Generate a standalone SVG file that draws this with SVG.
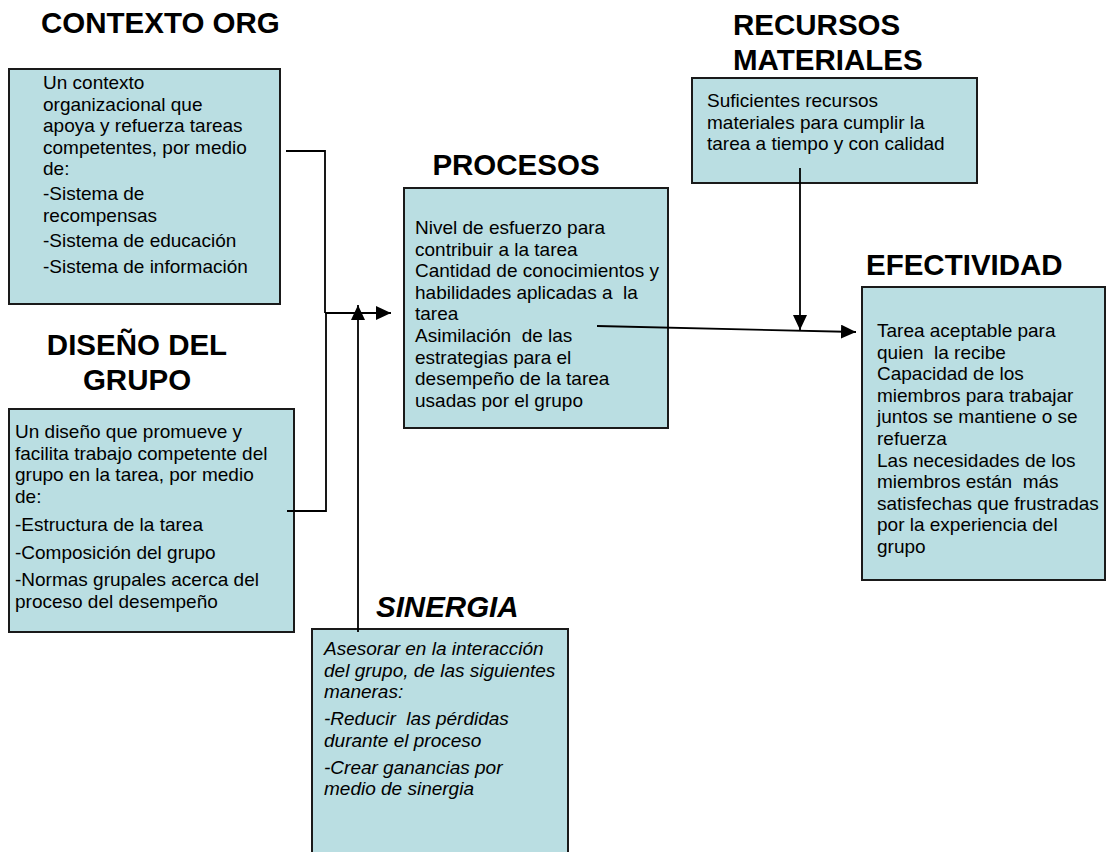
<svg xmlns="http://www.w3.org/2000/svg" width="1109" height="852" viewBox="0 0 1109 852">
<style>
.box{fill:#BADEE2;stroke:#1a1a1a;stroke-width:2}
.title{font-family:"Liberation Sans",Arial,sans-serif;font-weight:bold;font-size:29.5px;fill:#000}
.ti{font-style:italic}
.body{font-family:"Liberation Sans",Arial,sans-serif;font-size:19px;fill:#000;white-space:pre}
.it{font-style:italic}
.conn{fill:none;stroke:#000;stroke-width:1.8}
</style>
<defs>
<marker id="arr" markerUnits="userSpaceOnUse" markerWidth="16" markerHeight="14" refX="15" refY="7" orient="auto">
<path d="M0,0 L15,7 L0,14 Z" fill="#000"/>
</marker>
</defs>
<rect width="1109" height="852" fill="#fff"/>

<g id="contexto">
<text class="title" x="41" y="33">CONTEXTO ORG</text>
<rect class="box" x="9" y="69" width="271" height="235"/>
<text class="body" xml:space="preserve">
<tspan x="43" y="89">Un contexto</tspan>
<tspan x="43" y="110.6">organizacional que</tspan>
<tspan x="43" y="132.2">apoya y refuerza tareas</tspan>
<tspan x="43" y="153.8">competentes, por medio</tspan>
<tspan x="43" y="175.4">de:</tspan>
<tspan x="43" y="200">-Sistema de</tspan>
<tspan x="43" y="221.6">recompensas</tspan>
<tspan x="43" y="247">-Sistema de educación</tspan>
<tspan x="43" y="272.5">-Sistema de información</tspan>
</text>
</g>

<g id="diseno">
<text class="title" x="137" y="355" text-anchor="middle">DISEÑO DEL</text>
<text class="title" x="137" y="390" text-anchor="middle">GRUPO</text>
<rect class="box" x="9" y="409" width="285" height="223"/>
<text class="body" xml:space="preserve">
<tspan x="15" y="438">Un diseño que promueve y</tspan>
<tspan x="15" y="459.6">facilita trabajo competente del</tspan>
<tspan x="15" y="481.2">grupo en la tarea, por medio</tspan>
<tspan x="15" y="502.8">de:</tspan>
<tspan x="15" y="530.5">-Estructura de la tarea</tspan>
<tspan x="15" y="558.5">-Composición del grupo</tspan>
<tspan x="15" y="586">-Normas grupales acerca del</tspan>
<tspan x="15" y="607.6">proceso del desempeño</tspan>
</text>
</g>

<g id="procesos">
<text class="title" x="516" y="175" text-anchor="middle">PROCESOS</text>
<rect class="box" x="404" y="188" width="264" height="240"/>
<text class="body" xml:space="preserve">
<tspan x="415" y="234">Nivel de esfuerzo para</tspan>
<tspan x="415" y="255.6">contribuir a la tarea</tspan>
<tspan x="415" y="277.2">Cantidad de conocimientos y</tspan>
<tspan x="415" y="298.8">habilidades aplicadas a  la</tspan>
<tspan x="415" y="320.4">tarea</tspan>
<tspan x="415" y="342">Asimilación  de las</tspan>
<tspan x="415" y="363.6">estrategias para el</tspan>
<tspan x="415" y="385.2">desempeño de la tarea</tspan>
<tspan x="415" y="406.8">usadas por el grupo</tspan>
</text>
</g>

<g id="recursos">
<text class="title" x="733" y="35">RECURSOS</text>
<text class="title" x="733" y="70">MATERIALES</text>
<rect class="box" x="692" y="78" width="285" height="105"/>
<text class="body" xml:space="preserve">
<tspan x="707" y="107">Suficientes recursos</tspan>
<tspan x="707" y="128.6">materiales para cumplir la</tspan>
<tspan x="707" y="150.2">tarea a tiempo y con calidad</tspan>
</text>
</g>

<g id="efectividad">
<text class="title" x="866" y="275">EFECTIVIDAD</text>
<rect class="box" x="862" y="287" width="243" height="293"/>
<text class="body" xml:space="preserve">
<tspan x="877" y="337">Tarea aceptable para</tspan>
<tspan x="877" y="358.6">quien  la recibe</tspan>
<tspan x="877" y="380.2">Capacidad de los</tspan>
<tspan x="877" y="401.8">miembros para trabajar</tspan>
<tspan x="877" y="423.4">juntos se mantiene o se</tspan>
<tspan x="877" y="445">refuerza</tspan>
<tspan x="877" y="466.6">Las necesidades de los</tspan>
<tspan x="877" y="488.2">miembros están  más</tspan>
<tspan x="877" y="509.8">satisfechas que frustradas</tspan>
<tspan x="877" y="531.4">por la experiencia del</tspan>
<tspan x="877" y="553">grupo</tspan>
</text>
</g>

<g id="sinergia">
<text class="title ti" x="376" y="617">SINERGIA</text>
<rect class="box" x="312" y="629" width="256" height="240"/>
<text class="body it" xml:space="preserve">
<tspan x="324" y="655">Asesorar en la interacción</tspan>
<tspan x="324" y="676.6">del grupo, de las siguientes</tspan>
<tspan x="324" y="698.2">maneras:</tspan>
<tspan x="324" y="725">-Reducir  las pérdidas</tspan>
<tspan x="324" y="746.6">durante el proceso</tspan>
<tspan x="324" y="773.5">-Crear ganancias por</tspan>
<tspan x="324" y="795">medio de sinergia</tspan>
</text>
</g>

<g id="connectors">
<polyline class="conn" points="286,151 325,151 325,313"/>
<polyline class="conn" points="287,511 326,511 326,313"/>
<line class="conn" x1="325" y1="313" x2="391" y2="313" marker-end="url(#arr)"/>
<line class="conn" x1="358" y1="632" x2="358" y2="305" marker-end="url(#arr)"/>
<line class="conn" x1="597" y1="326" x2="856" y2="332" marker-end="url(#arr)"/>
<line class="conn" x1="800" y1="168" x2="800" y2="330" marker-end="url(#arr)"/>
</g>
</svg>
